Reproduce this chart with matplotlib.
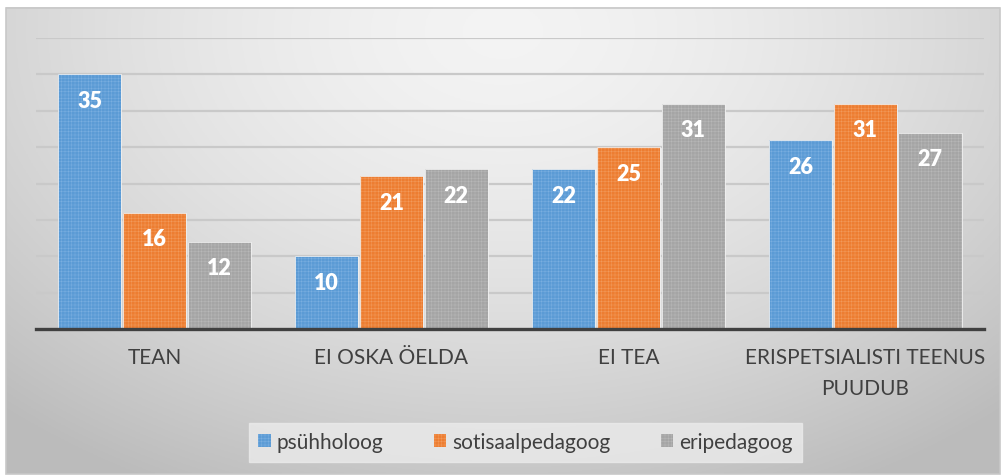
import numpy as np
import matplotlib
matplotlib.use("Agg")
import matplotlib.pyplot as plt
from matplotlib.patches import Rectangle

# dati del grafico
categories = ["TEAN", "EI OSKA ÖELDA", "EI TEA", "ERISPETSIALISTI TEENUS\nPUUDUB"]
series_names = ["psühholoog", "sotisaalpedagoog", "eripedagoog"]
psyhholoog = [35, 10, 22, 26]
sotsiaalpedagoog = [16, 21, 25, 31]
eripedagoog = [12, 22, 31, 27]
colors = ["#5b9bd5", "#ed7d31", "#a5a5a5"]

plt.rcParams['font.family'] = ['Lato', 'DejaVu Sans']
plt.rcParams['hatch.linewidth'] = 0.35

fig = plt.figure(figsize=(10.03, 4.77), dpi=100)

# sfondo sfumato
bg = fig.add_axes([0, 0, 1, 1], zorder=-10)
xx, yy = np.meshgrid(np.linspace(0, 1, 400), np.linspace(0, 1, 200))
r = np.sqrt(((xx - 0.5) / 0.75) ** 2 + ((yy - 0.05) / 1.1) ** 2)
shade = 0.955 - 0.22 * np.clip(r, 0, 1) ** 1.6
img = np.dstack([shade, shade, shade])
bg.imshow(img, extent=[0.006, 0.997, 0.004, 0.981], aspect='auto', origin='upper',
          transform=bg.transAxes)
bg.add_patch(Rectangle((0.006, 0.004), 0.991, 0.977, fill=False, ec="#c8c8c8", lw=1.2,
                       transform=bg.transAxes))
bg.set_xlim(0, 1)
bg.set_ylim(0, 1)
bg.axis('off')

ax = fig.add_axes([0.0359, 0.308, 0.945, 0.61])
ax.set_facecolor('none')

x = np.arange(len(categories))
width = 0.274
data = [psyhholoog, sotsiaalpedagoog, eripedagoog]
hatch_cols = ["#7aafe0", "#f29a5c", "#b8b8b8"]
for i, (vals, col) in enumerate(zip(data, colors)):
    pos = x + (i - 1) * width
    bars = ax.bar(pos, vals, width * 0.98, color=col, edgecolor=hatch_cols[i], hatch='+++++',
                  linewidth=0, zorder=3, label=series_names[i])
    for b in bars:
        ax.add_patch(Rectangle((b.get_x(), 0), b.get_width(), b.get_height(), fill=False,
                               ec="#f0f0f0", lw=0.6, zorder=4))
    for p, v in zip(pos, vals):
        ax.text(p, v - 3.6, str(v), ha='center', va='center', color='white',
                fontsize=15.5, fontweight='heavy', zorder=5)

ax.set_xlim(-0.5, len(categories) - 0.5)
ax.set_ylim(0, 40)
ax.set_yticks(np.arange(5, 41, 5))
ax.yaxis.grid(True, color="#c9c9c9", lw=1.6, zorder=0)
ax.tick_params(axis='y', length=0, labelleft=False)
ax.tick_params(axis='x', length=0, pad=13)
ax.set_xticks(x)
ax.set_xticklabels(categories, fontsize=15, color="#404040", linespacing=1.65)
for s in ['top', 'right', 'left']:
    ax.spines[s].set_visible(False)
ax.spines['bottom'].set_color("#404040")
ax.spines['bottom'].set_linewidth(2.4)
ax.spines['bottom'].set_zorder(6)

leg = fig.legend(loc='center', bbox_to_anchor=(0.524, 0.071), ncol=3, frameon=True,
                 fontsize=15, handlelength=0.6, handleheight=0.6, handletextpad=0.3,
                 columnspacing=2.4, borderpad=0.45, fancybox=False)
leg.get_frame().set_facecolor("#ebebeb")
leg.get_frame().set_edgecolor("#ebebeb")
for t in leg.get_texts():
    t.set_color("#404040")

fig.savefig("out.png", dpi=100)
